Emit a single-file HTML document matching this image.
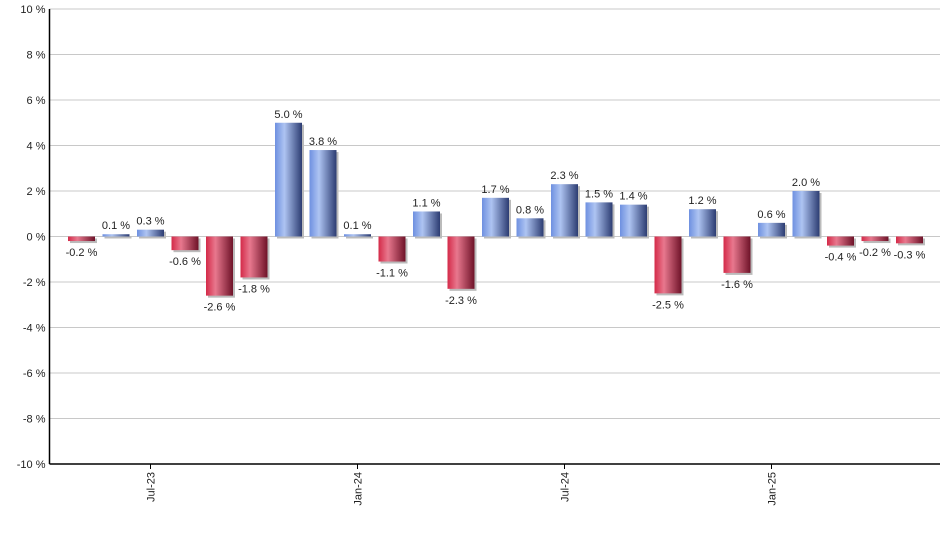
<!DOCTYPE html>
<html><head><meta charset="utf-8"><style>
body{margin:0;background:#fff;}
svg{display:block;font-family:"Liberation Sans",Arial,sans-serif;}
</style></head><body>
<svg id="chart" width="940" height="550">
<defs>
<linearGradient id="gRed" x1="0" x2="1" y1="0" y2="0">
<stop offset="0" stop-color="#d42a48"/><stop offset="0.35" stop-color="#e8788e"/><stop offset="1" stop-color="#6e1228"/>
</linearGradient>
<linearGradient id="gBlue" x1="0" x2="1" y1="0" y2="0">
<stop offset="0" stop-color="#6e90e0"/><stop offset="0.35" stop-color="#aec4f2"/><stop offset="1" stop-color="#2c3c72"/>
</linearGradient>
</defs>
<g id="grid"></g>
<g id="bars"></g>
<g id="axes"></g>
</svg>
<script>
const values=[-0.2,0.1,0.3,-0.6,-2.6,-1.8,5.0,3.8,0.1,-1.1,1.1,-2.3,1.7,0.8,2.3,1.5,1.4,-2.5,1.2,-1.6,0.6,2.0,-0.4,-0.2,-0.3];
const yTicks=[10,8,6,4,2,0,-2,-4,-6,-8,-10];
const xTickIdx=[2,8,14,20];
const xTickLabels=["Jul-23","Jan-24","Jul-24","Jan-25"];
const NS="http://www.w3.org/2000/svg";
const plotL=49.5,plotR=940,plotT=9,plotB=464,zeroY=236.5;
const yS=v=>zeroY-v*(plotB-zeroY)/10;
const xS=i=>81.5+i*34.5;
const bw=27;
function mk(t,a,p){const e=document.createElementNS(NS,t);for(const k in a)e.setAttribute(k,a[k]);p.appendChild(e);return e;}
const grid=document.getElementById('grid'),bars=document.getElementById('bars'),axes=document.getElementById('axes');
yTicks.forEach(v=>{
  const l=mk('line',{x1:plotL,x2:plotR,y1:yS(v),y2:yS(v),stroke:'#c8c8c8','stroke-width':1},grid);
  
  
  const t=mk('text',{x:plotL-4,y:yS(v)+4,'text-anchor':'end','font-size':11,fill:'#222'},axes);
  t.textContent=v+' %';
  
  
});
values.forEach((v,i)=>{
  const y0=Math.min(yS(v),zeroY),h=Math.abs(yS(v)-zeroY);
  const s=mk('rect',{x:xS(i)-bw/2+2,y:y0+2,width:bw,height:h,fill:'#bbb'},bars);
  
  
  const r=mk('rect',{x:xS(i)-bw/2,y:y0,width:bw,height:h,fill:v<0?'url(#gRed)':'url(#gBlue)'},bars);
  
  
  const ly=v<0?yS(v)+15:yS(v)-5;
  const t=mk('text',{x:xS(i),y:ly,'text-anchor':'middle','font-size':11,fill:'#222'},bars);
  t.textContent=v.toFixed(1)+' %';
  
  
});
const ya=mk('line',{x1:plotL,x2:plotL,y1:plotT,y2:plotB,stroke:'#000','stroke-width':1.5},axes);


const xa=mk('line',{x1:plotL,x2:plotR,y1:plotB,y2:plotB,stroke:'#000','stroke-width':1.5},axes);


xTickIdx.forEach((idx,k)=>{
  const tx=xS(idx);
  const tk=mk('line',{x1:tx,x2:tx,y1:plotB,y2:plotB+5,stroke:'#000'},axes);
  
  
  const t=mk('text',{x:0,y:0,'text-anchor':'end','font-size':11,fill:'#222',transform:`translate(${tx+4},${plotB+8}) rotate(-90)`},axes);
  t.textContent=xTickLabels[k];
  
  
});
</script>
</body></html>
